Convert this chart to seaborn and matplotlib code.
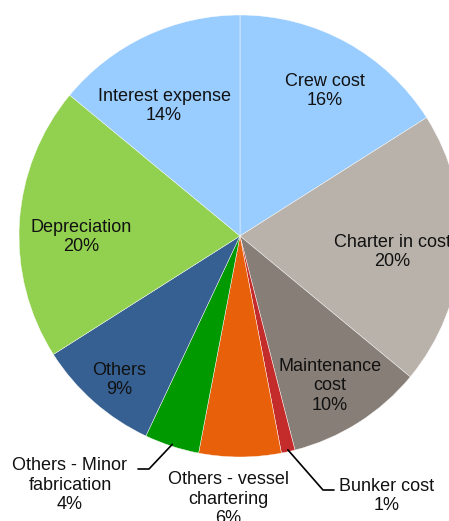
import numpy as np
import matplotlib
matplotlib.use("Agg")
import matplotlib.pyplot as plt
import seaborn as sns

categories = ["Crew cost", "Charter in cost", "Maintenance\ncost", "Bunker cost",
              "Others - vessel\nchartering", "Others - Minor\nfabrication", "Others",
              "Depreciation", "Interest expense"]
values = [16, 20, 10, 1, 6, 4, 9, 20, 14]
colors = ["#99CCFF", "#B8B2AA", "#877E77", "#C42B2B", "#E8600A", "#009A00",
          "#366092", "#92D050", "#99CCFF"]

sns.set_theme(style="white")
plt.rcParams["font.family"] = ["Liberation Sans", "DejaVu Sans"]

W, H = 449, 521
fig = plt.figure(figsize=(W / 100, H / 100), dpi=100)
ax = fig.add_axes([0, 0, 1, 1])

cx, cy, R = 240, 236, 221
# y axis is inverted below, so data-space angle -90 is the top of the picture
# and counterclockwise in data space appears clockwise on screen
wedges, _ = ax.pie(values, colors=colors, startangle=-90, counterclock=True,
                   center=(cx, cy), radius=R, frame=True,
                   wedgeprops=dict(edgecolor="white", linewidth=0.3))
ax.set_xlim(0, W)
ax.set_ylim(H, 0)
ax.set_aspect("equal")
ax.axis("off")

fs = 13
label_pos = {
    0: (325, 91),
    1: (392, 252),
    2: (330, 386),
    3: (387, 496),
    4: (228, 499),
    5: (70, 485),
    6: (119, 380),
    7: (81, 237),
    8: (164, 106),
}
for i, (cat, v) in enumerate(zip(categories, values)):
    x, y = label_pos[i]
    ax.text(x, y, f"{cat}\n{v}%", ha="center", va="center", fontsize=fs,
            color="#111111", linespacing=1.18, clip_on=False)

cum = np.cumsum([0] + values)

def edge_pt(i, r=R):
    mid = (cum[i] + cum[i + 1]) / 2 / 100.0
    ang = np.deg2rad(90 - 360 * mid)
    return cx + r * np.cos(ang), cy - r * np.sin(ang)

bx, by = edge_pt(3, R - 2)
ax.plot([bx, 323, 334], [by, 490, 490], color="black", lw=1.2, clip_on=False)
mx, my = edge_pt(5, R - 2)
ax.plot([mx, 149, 138], [my, 469, 469], color="black", lw=1.2, clip_on=False)

fig.savefig("out.png", dpi=100)
